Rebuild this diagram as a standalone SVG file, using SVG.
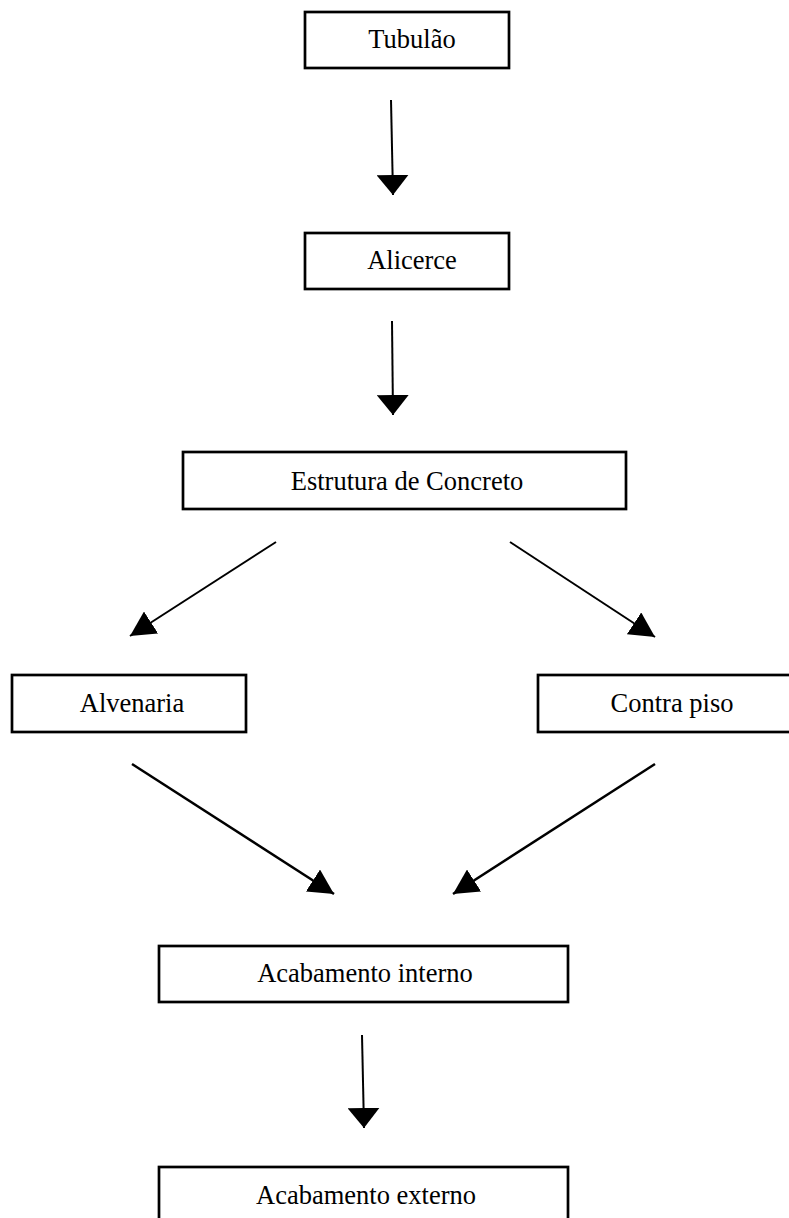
<svg xmlns="http://www.w3.org/2000/svg" width="789" height="1218" viewBox="0 0 789 1218">
<style>
.box{fill:#fff;stroke:#000;stroke-width:2.7}
.lbl{font-family:"Liberation Serif","Times New Roman",serif;font-size:26.5px;fill:#000;text-anchor:middle}
.v{stroke:#000;stroke-width:2;fill:none;marker-end:url(#ahv)}
.d{stroke:#000;stroke-width:2;fill:none;marker-end:url(#ahd)}
.d2{stroke:#000;stroke-width:2.5;fill:none;marker-end:url(#ahd)}
</style>
<defs>
<marker id="ahv" viewBox="0 0 20 32" refX="20" refY="16" markerWidth="20" markerHeight="32" markerUnits="userSpaceOnUse" orient="auto">
<path d="M0,0 L20,16 L0,32 Z" fill="#000"/>
</marker>
<marker id="ahd" viewBox="0 0 25 26" refX="25" refY="13" markerWidth="25" markerHeight="26" markerUnits="userSpaceOnUse" orient="auto">
<path d="M0,0 L25,13 L0,26 Z" fill="#000"/>
</marker>
</defs>
<rect width="789" height="1218" fill="#fff"/>
<g id="connectors">
<line class="v" x1="391" y1="100" x2="393" y2="195"/>
<line class="v" x1="392" y1="321" x2="393" y2="415"/>
<line class="d" x1="276" y1="542" x2="130" y2="636"/>
<line class="d" x1="510" y1="542" x2="655" y2="637"/>
<line class="d2" x1="132" y1="764" x2="334" y2="894"/>
<line class="d2" x1="655" y1="764" x2="453" y2="894"/>
<line class="v" x1="362" y1="1035" x2="364" y2="1128"/>
</g>
<g id="tubulao"><rect class="box" x="305" y="12" width="204" height="56"/><text class="lbl" x="412" y="48">Tubulão</text></g>
<g id="alicerce"><rect class="box" x="305" y="233" width="204" height="56"/><text class="lbl" x="412" y="269">Alicerce</text></g>
<g id="estrutura"><rect class="box" x="183" y="452" width="443" height="57"/><text class="lbl" x="407" y="490">Estrutura de Concreto</text></g>
<g id="alvenaria"><rect class="box" x="12" y="675" width="234" height="57"/><text class="lbl" x="132" y="712">Alvenaria</text></g>
<g id="contrapiso"><rect class="box" x="538" y="675" width="268" height="57"/><text class="lbl" x="672" y="712">Contra piso</text></g>
<g id="interno"><rect class="box" x="159" y="946" width="409" height="56"/><text class="lbl" x="365" y="982">Acabamento interno</text></g>
<g id="externo"><rect class="box" x="159" y="1167" width="409" height="70"/><text class="lbl" x="366" y="1204">Acabamento externo</text></g>
</svg>
